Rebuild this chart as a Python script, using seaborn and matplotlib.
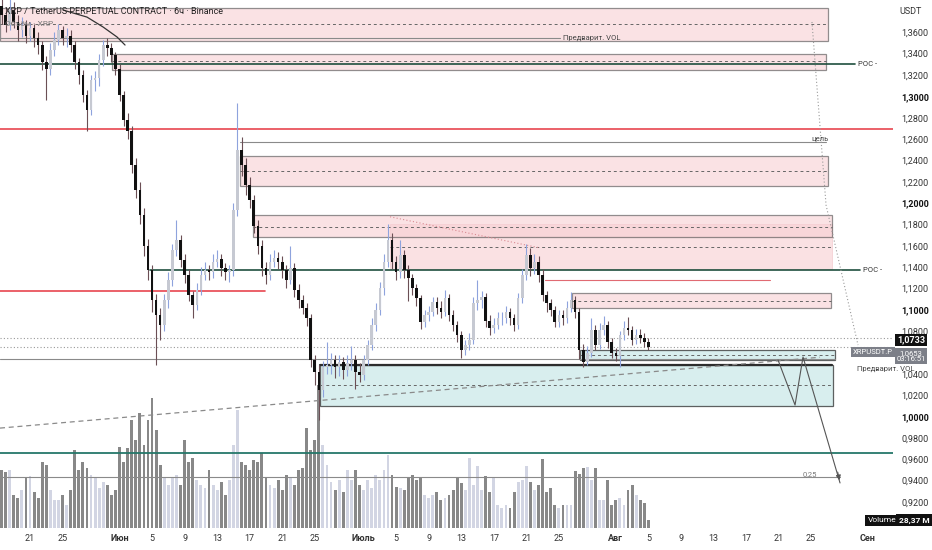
import numpy as np
import pandas as pd
import seaborn as sns
import matplotlib.pyplot as plt
from matplotlib.patches import Rectangle

# 12h candles, x measured in days since 1 May
start_day = 16.5
first_open = 1.385

closes = [
    1.376, 1.367, 1.381, 1.370, 1.362, 1.367, 1.357, 1.364, 1.355, 1.348,
    1.332, 1.326, 1.343, 1.353, 1.362, 1.355, 1.357, 1.348, 1.332, 1.320,
    1.301, 1.287, 1.315, 1.317, 1.334, 1.348, 1.345, 1.339, 1.326, 1.301,
    1.278, 1.268, 1.236, 1.212, 1.189, 1.160, 1.137, 1.109, 1.095, 1.086,
    1.109, 1.128, 1.156, 1.165, 1.147, 1.133, 1.114, 1.105, 1.119, 1.133,
    1.137, 1.135, 1.145, 1.148, 1.139, 1.135, 1.137, 1.194, 1.250, 1.236,
    1.217, 1.203, 1.179, 1.160, 1.139, 1.133, 1.145, 1.149, 1.145, 1.137,
    1.128, 1.139, 1.119, 1.109, 1.102, 1.092, 1.053, 1.042, 1.025, 1.046,
    1.048, 1.053, 1.046, 1.051, 1.044, 1.050, 1.053, 1.042, 1.039, 1.053,
    1.067, 1.086, 1.100, 1.120, 1.145, 1.165, 1.145, 1.135, 1.151, 1.137,
    1.130, 1.120, 1.111, 1.089, 1.095, 1.098, 1.107, 1.102, 1.098, 1.111,
    1.095, 1.086, 1.076, 1.062, 1.067, 1.072, 1.106, 1.109, 1.112, 1.090,
    1.083, 1.086, 1.092, 1.092, 1.098, 1.092, 1.086, 1.111, 1.133, 1.151,
    1.139, 1.145, 1.133, 1.114, 1.106, 1.100, 1.089, 1.095, 1.092, 1.102,
    1.109, 1.098, 1.062, 1.051, 1.060, 1.081, 1.067, 1.081, 1.086, 1.070,
    1.060, 1.057, 1.076, 1.083, 1.081, 1.072, 1.076, 1.074, 1.070, 1.0653,
]
highs = [
    1.392, 1.384, 1.392, 1.388, 1.376, 1.374, 1.372, 1.370, 1.368, 1.360,
    1.352, 1.338, 1.350, 1.360, 1.368, 1.366, 1.364, 1.362, 1.352, 1.336,
    1.325, 1.306, 1.320, 1.324, 1.340, 1.353, 1.355, 1.350, 1.342, 1.330,
    1.305, 1.284, 1.272, 1.242, 1.220, 1.195, 1.166, 1.142, 1.115, 1.102,
    1.115, 1.135, 1.162, 1.184, 1.170, 1.152, 1.138, 1.118, 1.125, 1.140,
    1.145, 1.142, 1.152, 1.156, 1.152, 1.144, 1.142, 1.200, 1.294, 1.262,
    1.242, 1.224, 1.208, 1.184, 1.165, 1.145, 1.152, 1.156, 1.154, 1.150,
    1.142, 1.160, 1.144, 1.124, 1.114, 1.106, 1.096, 1.058, 1.048, 1.052,
    1.070, 1.060, 1.058, 1.058, 1.056, 1.058, 1.066, 1.058, 1.050, 1.058,
    1.072, 1.092, 1.106, 1.126, 1.152, 1.180, 1.172, 1.150, 1.165, 1.156,
    1.142, 1.134, 1.124, 1.114, 1.100, 1.104, 1.112, 1.112, 1.108, 1.119,
    1.115, 1.100, 1.090, 1.080, 1.072, 1.078, 1.112, 1.128, 1.118, 1.116,
    1.095, 1.092, 1.098, 1.098, 1.104, 1.102, 1.096, 1.116, 1.138, 1.162,
    1.158, 1.152, 1.150, 1.138, 1.118, 1.110, 1.104, 1.100, 1.100, 1.108,
    1.117, 1.113, 1.102, 1.068, 1.066, 1.092, 1.086, 1.088, 1.094, 1.090,
    1.074, 1.064, 1.080, 1.090, 1.093, 1.085, 1.082, 1.082, 1.078, 1.074,
]
lows = [
    1.368, 1.360, 1.362, 1.364, 1.352, 1.356, 1.350, 1.352, 1.346, 1.340,
    1.325, 1.297, 1.320, 1.338, 1.348, 1.348, 1.346, 1.342, 1.326, 1.312,
    1.295, 1.268, 1.283, 1.305, 1.310, 1.328, 1.338, 1.332, 1.320, 1.296,
    1.272, 1.260, 1.228, 1.205, 1.180, 1.150, 1.128, 1.098, 1.048, 1.072,
    1.080, 1.102, 1.122, 1.150, 1.140, 1.125, 1.108, 1.092, 1.100, 1.114,
    1.128, 1.128, 1.130, 1.140, 1.132, 1.128, 1.126, 1.132, 1.188, 1.225,
    1.208, 1.195, 1.172, 1.152, 1.132, 1.124, 1.128, 1.140, 1.138, 1.130,
    1.120, 1.124, 1.112, 1.102, 1.096, 1.085, 1.046, 1.030, 0.997, 1.018,
    1.040, 1.040, 1.036, 1.038, 1.035, 1.038, 1.044, 1.026, 1.032, 1.034,
    1.048, 1.062, 1.080, 1.095, 1.114, 1.140, 1.138, 1.128, 1.130, 1.130,
    1.108, 1.114, 1.104, 1.082, 1.084, 1.090, 1.094, 1.096, 1.092, 1.094,
    1.090, 1.080, 1.070, 1.055, 1.058, 1.062, 1.068, 1.100, 1.102, 1.084,
    1.076, 1.078, 1.082, 1.086, 1.088, 1.086, 1.080, 1.082, 1.106, 1.128,
    1.132, 1.134, 1.126, 1.108, 1.098, 1.094, 1.084, 1.084, 1.086, 1.088,
    1.098, 1.092, 1.054, 1.046, 1.048, 1.056, 1.062, 1.063, 1.076, 1.064,
    1.055, 1.052, 1.046, 1.072, 1.076, 1.067, 1.068, 1.069, 1.065, 1.062,
]
# volume, millions
volumes = [
    203, 196, 203, 116, 105, 133, 175, 182, 126, 105,
    231, 221, 133, 98, 98, 116, 81, 133, 273, 203,
    231, 210, 186, 175, 140, 161, 151, 116, 133, 284,
    231, 280, 378, 308, 403, 291, 378, 455, 343, 221,
    175, 151, 175, 186, 151, 308, 231, 245, 168, 151,
    140, 203, 151, 133, 161, 116, 168, 291, 413, 231,
    221, 203, 238, 231, 263, 175, 151, 140, 168, 133,
    186, 175, 151, 203, 210, 350, 273, 308, 500, 291,
    221, 161, 133, 168, 126, 203, 168, 203, 151, 133,
    168, 140, 186, 168, 203, 256, 186, 144, 140, 133,
    175, 186, 168, 175, 116, 105, 116, 126, 98, 105,
    116, 133, 175, 158, 133, 245, 151, 217, 133, 182,
    126, 175, 81, 70, 81, 70, 126, 161, 168, 217,
    161, 133, 151, 242, 126, 140, 81, 70, 81, 81,
    81, 200, 189, 210, 214, 168, 210, 98, 98, 168,
    81, 98, 105, 81, 133, 151, 116, 98, 88, 28.37,
]

tick_days = [20, 24, 31, 35, 39, 43, 47, 51, 55, 61, 65, 69, 73, 77,
             81, 85, 92, 96, 100, 104, 108, 112, 116, 123]
tick_labels = ["21", "25", "Июн", "5", "9", "13", "17", "21", "25", "Июль",
               "5", "9", "13", "17", "21", "25", "Авг", "5", "9", "13",
               "17", "21", "25", "Сен"]
months = ["Июн", "Июль", "Авг", "Сен"]
price_ticks = np.arange(0.92, 1.3601, 0.02)
last_price = 1.0733
mark_price = 1.0653

# zones: (from day, to day, top, bottom, dashed middle)
supply_zones = [
    (16.31, 118.08, 1.3828, 1.3519, 1.3678),
    (30.08, 117.84, 1.3397, 1.3247, 1.3331),
    (45.81, 118.08, 1.2441, 1.2160, 1.2300),
    (47.41, 118.57, 1.1888, 1.1682, 1.1776),
    (86.62, 118.45, 1.1158, 1.1017, 1.1086),
]
wide_supply = (64.25, 118.57, 1.1804, 1.1383, 1.1588)
demand_zones = [
    (55.64, 118.70, 1.0483, 1.0100, 1.0297),
    (87.60, 118.94, 1.0623, 1.0530, 1.0580),
]
red_levels = [(1.2694, 16.31, 126.07), (1.1177, 16.31, 48.88)]
poc_levels = [(1.3303, 16.31, 121.4), (1.1373, 34.75, 122.0)]
grey_levels = [(1.3547, 16.31, 85.1), (1.2572, 45.81, 117.84),
               (0.9434, 16.31, 119.56), (1.0535, 16.31, 118.9)]
green_level = 0.966
trend_days = [16.31, 117.10]
trend_prices = [0.9892, 1.0556]
curve_days = [24.06, 27.0, 28.98, 30.7, 31.68]
curve_prices = [1.3809, 1.3743, 1.3650, 1.3556, 1.3481]
path_days = [111.94, 114.03, 115.01, 119.56]
path_prices = [1.053, 1.0108, 1.0558, 0.9378]
guide_days = [116.11, 117.84, 121.77]
guide_prices = [1.3697, 1.1982, 1.067]

# ---------------------------------------------------------------
sns.set_theme(style="white")
plt.rcParams['font.family'] = ['Liberation Sans Narrow', 'Roboto', 'DejaVu Sans']

n = len(closes)
days = start_day + 0.5 * np.arange(n)
opens = [first_open] + closes[:-1]
df = pd.DataFrame({"day": days, "open": opens, "high": highs, "low": lows,
                   "close": closes, "volume": volumes})
df["dir"] = np.where(df["close"] >= df["open"], "up", "down")

fig = plt.figure(figsize=(9.32, 5.5), dpi=100)
ax = fig.add_axes([0, 22 / 550, 893 / 932, 528 / 550])
ax2 = ax.twinx()

# volume pane
sns.barplot(data=df, x="day", y="volume", hue="dir", native_scale=True,
            dodge=False, width=0.7, errorbar=None, linewidth=0, legend=False,
            palette={"up": "#cfd3e6", "down": "#888888"}, ax=ax2)
ax2.set_ylim(0, 1848)
ax2.set_yticks([])
ax2.set_ylabel("")
ax2.set_xlabel("")
for s in ax2.spines.values():
    s.set_visible(False)

ax.set_zorder(ax2.get_zorder() + 1)
ax.patch.set_visible(False)

# zones
def zone(z, face, edge, lw=0.9, alpha=1.0):
    d0, d1, top, bot, mid = z
    ax.add_patch(Rectangle((d0, bot), d1 - d0, top - bot, facecolor=face,
                           edgecolor=edge, lw=lw, alpha=alpha, zorder=1))
    ax.plot([d0, d1], [mid, mid], color="#666666", lw=0.7, ls=(0, (3, 3)), zorder=1.5)

zone(wide_supply, "#f6c9cd", "#f0b8be", lw=0.6, alpha=0.55)
for z in supply_zones:
    zone(z, "#f7cfd3", "#4a4a4a", alpha=0.6)
for z in demand_zones:
    zone(z, "#cfeaea", "#3a3a3a", alpha=0.8)
ax.plot([55.64, 118.6], [1.0483, 1.0483], color="#2d2d2d", lw=1.6, zorder=2)

for p, d0, d1 in red_levels:
    ax.plot([d0, d1], [p, p], color="#e8464f", lw=1.2, zorder=2)
ax.plot([83.3, 110.95], [1.1279, 1.1279], color="#e06a72", lw=0.8, zorder=2)
for p, d0, d1 in poc_levels:
    ax.plot([d0, d1], [p, p], color="#1f4f3e", lw=1.2, zorder=2)
    ax.text(d1 + 0.4, p, "POC -", fontsize=5.5, color="#333333", va="center")
for p, d0, d1 in grey_levels:
    ax.plot([d0, d1], [p, p], color="#8a8a8a", lw=0.8, zorder=2)
ax.axhline(green_level, color="#25776a", lw=1.3, zorder=2)
ax.axhline(last_price, color="#999999", lw=0.8, ls=(0, (1, 2)), zorder=2)
ax.axhline(mark_price, color="#999999", lw=0.8, ls=(0, (1, 2)), zorder=2)

ax.plot(trend_days, trend_prices, color="#8a8a8a", lw=0.9, ls=(0, (4, 3)), zorder=2)
ax.plot([64.25, 82.69], [1.1872, 1.158], color="#d98a92", lw=0.8, ls=(0, (1, 2)), zorder=2)
ax.plot(curve_days, curve_prices, color="#333333", lw=0.9, zorder=4)
ax.plot(guide_days, guide_prices, color="#9a9a9a", lw=0.8, ls=(0, (1, 2)), zorder=2)
ax.plot(path_days, path_prices, color="#555555", lw=0.8, zorder=4)
ax.annotate("", xy=(path_days[-1], path_prices[-1]), xytext=(119.2, 0.9505),
            arrowprops=dict(arrowstyle="-|>", color="#555555", lw=0.8,
                            mutation_scale=7), zorder=4)

ax.text(85.5, 1.3547, "Предварит. VOL", fontsize=5.5, color="#444444", va="center")
ax.text(121.6, 1.0445, "Предварит. VOL", fontsize=5.5, color="#444444", va="center")
ax.text(116.0, 1.2575, "цель", fontsize=5.5, color="#444444", va="bottom")
ax.text(115.0, 0.9436, "0,25", fontsize=5.5, color="#777777", va="bottom")

# candles
up = df["dir"] == "up"
for mask, body, wick in [(up, "#c6c9d2", "#8ea3dd"), (~up, "#111111", "#6b4f55")]:
    sub = df[mask]
    ax.vlines(sub["day"], sub["low"], sub["high"], color=wick, lw=0.8, zorder=3)
    ax.bar(sub["day"], (sub["close"] - sub["open"]).abs().clip(lower=0.0008),
           bottom=np.minimum(sub["open"], sub["close"]), width=0.32,
           color=body, lw=0, zorder=3.5)

ax.set_xlim(16.31, 126.07)
ax2.set_xlim(16.31, 126.07)
ax.set_ylim(0.8956, 1.3903)

# the 1,0600 label sits under the price tags, as in the original
ax.yaxis.tick_right()
ax.set_yticks(price_ticks)
ax.set_yticklabels(["" if abs(v - 1.06) < 1e-6 else f"{v:.4f}".replace(".", ",")
                    for v in price_ticks])
ax.tick_params(axis="y", length=0, pad=6, labelsize=6.5, labelcolor="#333333")
for lab, v in zip(ax.get_yticklabels(), price_ticks):
    if abs(v * 10 - round(v * 10)) < 1e-6:
        lab.set_fontweight("bold")
        lab.set_color("#111111")

ax.set_xticks(tick_days)
ax.set_xticklabels(tick_labels)
ax.tick_params(axis="x", length=0, pad=4, labelsize=6.5, labelcolor="#333333")
for lab in ax.get_xticklabels():
    if lab.get_text() in months:
        lab.set_fontweight("bold")
for s in ax.spines.values():
    s.set_visible(False)
ax.grid(False)
ax.set_xlabel("")
ax.set_ylabel("")

# header and price tags
fig.text(5 / 932, 1 - 11 / 550, "XRP / TetherUS PERPETUAL CONTRACT · 6ч · Binance",
         fontsize=6.5, color="#222222", va="center")
fig.text(5 / 932, 1 - 24 / 550, "Объём · XRP", fontsize=6, color="#777777", va="center")
fig.text(911 / 932, 1 - 12 / 550, "USDT", fontsize=6.5, color="#333333", ha="center", va="center")
fig.text(911 / 932, 1 - 340 / 550, "1,0733", fontsize=6.5, color="white", ha="center",
         va="center", fontweight="bold",
         bbox=dict(boxstyle="square,pad=0.2", fc="#111111", ec="none"))
fig.text(911 / 932, 1 - 356 / 550, "1,0653\n03:16:51", fontsize=5.5, color="white",
         ha="center", va="center", linespacing=1.0,
         bbox=dict(boxstyle="square,pad=0.2", fc="#7c7f88", ec="none"))
fig.text(873 / 932, 1 - 352 / 550, "XRPUSDT.P", fontsize=5.5, color="white",
         ha="center", va="center",
         bbox=dict(boxstyle="square,pad=0.2", fc="#7c7f88", ec="none"))
fig.text(882 / 932, 1 - 520 / 550, "Volume", fontsize=6, color="white",
         ha="center", va="center",
         bbox=dict(boxstyle="square,pad=0.3", fc="#111111", ec="none"))
fig.text(914 / 932, 1 - 520 / 550, "28,37 M", fontsize=6, color="white",
         ha="center", va="center", fontweight="bold",
         bbox=dict(boxstyle="square,pad=0.3", fc="#111111", ec="none"))

fig.savefig("out.png", dpi=100)
